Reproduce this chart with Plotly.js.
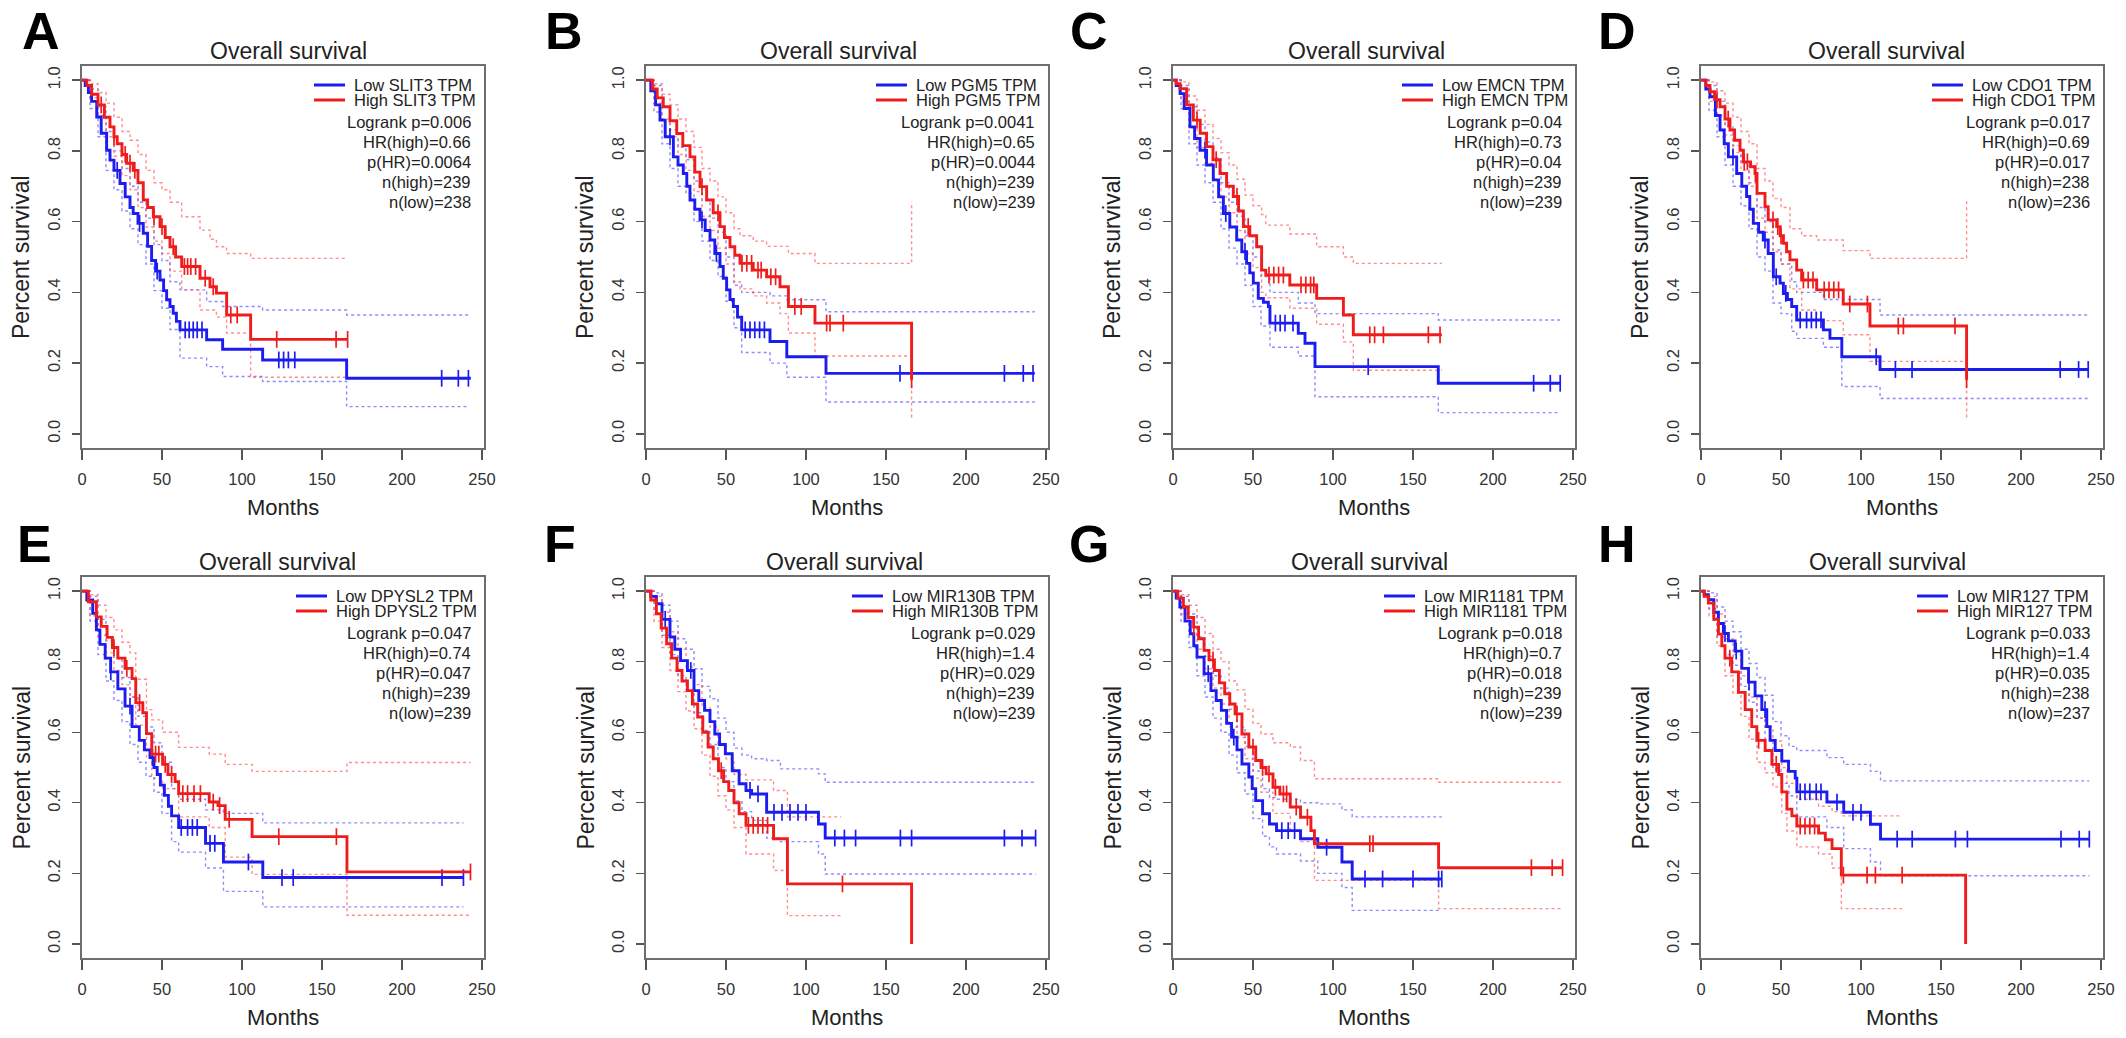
<!DOCTYPE html>
<html><head><meta charset="utf-8">
<script src="https://cdn.plot.ly/plotly-3.0.1.min.js"></script>
<style>html,body{margin:0;padding:0;background:#fff}#chart{width:2126px;height:1038px}</style>
</head><body><div id="chart"></div>
<script>
// ---------- DATA ----------
const letters = ['A','B','C','D','E','F','G','H'];
const genes = ['SLIT3','PGM5','EMCN','CDO1','DPYSL2','MIR130B','MIR1181','MIR127'];
const logrankP = ['0.006','0.0041','0.04','0.017','0.047','0.029','0.018','0.033'];
const hrHigh = ['0.66','0.65','0.73','0.69','0.74','1.4','0.7','1.4'];
const pHR = ['0.0064','0.0044','0.04','0.017','0.047','0.029','0.018','0.035'];
const nHigh = [239,239,239,238,239,239,239,238];
const nLow = [238,239,239,236,239,239,239,237];
const xTicks = [0,50,100,150,200,250];
const yTicks = [0,0.2,0.4,0.6,0.8,1.0];
const yTickText = ['0.0','0.2','0.4','0.6','0.8','1.0'];

// Panel A
const A_lowT=[0,2,4,6,9.2,12,15.4,17.5,20,23.75,27,30,32,35,38.3,41,43.5,46,48.75,51,52.9,55,57,59,61.25,77.9,87.9,112.9,165.4,243];
const A_lowS=[1,.985,.965,.94,.896,.85,.802,.774,.745,.708,.67,.64,.623,.595,.567,.53,.49,.46,.435,.405,.379,.36,.341,.318,.294,.266,.239,.209,.157,.157];
const A_lowC=[22,36,47,64.5,67,69.5,72,75,123,126,129,133,224.8,235.2,241.5];
const A_lowCiT=[0,5,10,15,20,25,30,35,40,45,50,55,61.25,77.9,87.9,112.9,165.4,242];
const A_lowCiU=[1,.975,.925,.855,.80,.75,.70,.655,.61,.535,.49,.43,.407,.374,.36,.35,.336,.336];
const A_lowCiL=[1,.92,.84,.745,.69,.63,.58,.535,.48,.405,.355,.295,.214,.19,.162,.148,.077,.077];
const A_highT=[0,3,6,10,14,17.5,20,22,25,27.9,32,35,38.3,41,44.6,48.75,52,55,58.5,62.3,73.75,80,84,90.4,105.4,166];
const A_highS=[1,.985,.96,.93,.895,.868,.84,.82,.79,.765,.745,.71,.661,.64,.614,.586,.555,.529,.5,.473,.44,.416,.398,.336,.267,.267];
const A_highC=[12,20,27,30,33,45,50,57,64,66,68,71,77,82,93,97,121.7,158.8,166];
const A_highCiT=[0,5,10,15,20,25,30,35,40,45,50,55,62.3,73.75,80,84,90.4,105.4,166];
const A_highCiU=[1,.99,.965,.935,.895,.855,.83,.79,.745,.71,.69,.655,.614,.576,.55,.529,.51,.496,.496];
const A_highCiL=[1,.95,.90,.84,.785,.73,.69,.64,.585,.545,.51,.46,.407,.35,.35,.33,.285,.16,.16];

// Panel B
const B_lowT=[0,3,6,8.75,12,17.1,20,23.3,25.5,27.5,30.5,33.75,37,40,43,46.25,48.3,50.4,52.5,54.6,57.2,59.8,77.5,88,112.5,243];
const B_lowS=[1,.97,.93,.887,.84,.783,.76,.736,.70,.661,.635,.605,.575,.548,.51,.473,.44,.407,.38,.36,.33,.294,.261,.218,.171,.171];
const B_lowC=[15,35,44,62,65,68,71,74,158.75,224,235.8,241.9];
const B_lowCiT=[0,5,10,15,20,25,30,35,40,45,50,55,59.8,77.5,88,112.5,243];
const B_lowCiU=[1,.985,.925,.86,.81,.775,.715,.66,.61,.57,.50,.42,.40,.39,.379,.345,.345];
const B_lowCiL=[1,.91,.82,.75,.70,.68,.60,.545,.49,.445,.375,.30,.23,.20,.16,.09,.09];
const B_highT=[0,4,7,10.8,15,19.2,23,27.5,30.5,33.75,37.9,42,46.25,49,52.5,55.5,58.75,67,75.4,83.75,89,105.6,166];
const B_highS=[1,.975,.95,.925,.885,.849,.815,.783,.74,.699,.661,.625,.586,.555,.529,.505,.482,.463,.444,.416,.36,.313,.153];
const B_highC=[35,45,60,63,66,70,72,78,81,93,97,112.9,115,123.3,166];
const B_highCiT=[0,5,10,15,20,25,30,35,40,45,50,55,58.75,67,75.4,83.75,89,105.6,166];
const B_highCiU=[1,.99,.96,.93,.89,.855,.81,.75,.715,.67,.625,.58,.56,.545,.53,.53,.51,.482,.656];
const B_highCiL=[1,.935,.89,.84,.79,.745,.685,.615,.575,.525,.48,.43,.41,.39,.37,.34,.285,.22,.04];

// Panel C
const C_lowT=[0,2,4.4,7,10.6,13.5,16.9,21,25.2,28.5,31.5,35.5,39.8,43,46,48,50.2,53.3,56.5,59.6,60.6,78.3,82.5,88.75,165.8,242];
const C_lowS=[1,.985,.962,.92,.868,.835,.802,.76,.718,.67,.623,.585,.548,.515,.482,.455,.426,.383,.372,.36,.313,.284,.256,.19,.143,.143];
const C_lowC=[20,33,45,64,67,70,75,122,225.4,235.8,242];
const C_lowCiT=[0,5,10,15,20,25,30,35,40,45,50,55,60.6,78.3,88.75,165.8,242];
const C_lowCiU=[1,.985,.925,.875,.825,.78,.71,.655,.615,.56,.50,.445,.40,.37,.34,.322,.322];
const C_lowCiL=[1,.92,.82,.76,.71,.655,.58,.525,.48,.42,.36,.305,.245,.22,.105,.06,.06];
const C_highT=[0,2,4.4,8.5,12.7,17,21,25,29.4,33.5,37.7,41,44,48,52.3,55.4,58,73,89.8,106.5,112.7,168];
const C_highS=[1,.99,.976,.93,.887,.85,.812,.775,.736,.70,.671,.63,.586,.56,.529,.463,.449,.421,.383,.336,.28,.28];
const C_highC=[15,27,40,47,60,63,66,69,80,83,86,88,123,126,131.5,159.6,166.9];
const C_highCiT=[0,5,10,15,20,25,30,35,40,45,50,55.4,58,73,89.8,106.5,112.7,168];
const C_highCiU=[1,.995,.955,.915,.875,.835,.795,.76,.72,.675,.645,.62,.59,.565,.529,.50,.482,.482];
const C_highCiL=[1,.94,.865,.81,.765,.715,.67,.625,.575,.51,.47,.40,.385,.355,.31,.26,.18,.18];

// Panel D
const D_lowT=[0,3,5.6,9,11.9,14.5,17.1,22.3,25.5,28.5,30.5,32.7,36,38.9,42,45.2,49.4,51.5,54,56.7,59.8,76.5,80.6,88,111.9,242];
const D_lowS=[1,.975,.953,.90,.859,.82,.783,.736,.70,.671,.635,.595,.57,.548,.51,.444,.426,.397,.38,.36,.322,.294,.27,.218,.182,.182];
const D_lowC=[20,40,47,53,62,66,69,72,75,109.5,121.5,131.9,224.5,236,242];
const D_lowCiT=[0,5,10,15,20,25,30,35,40,45,50,56.7,59.8,76.5,88,111.9,242];
const D_lowCiU=[1,.985,.94,.87,.815,.765,.71,.64,.60,.52,.48,.43,.40,.38,.38,.336,.336];
const D_lowCiL=[1,.915,.84,.76,.70,.645,.58,.50,.46,.37,.34,.29,.27,.245,.134,.10,.10];
const D_highT=[0,3,5.6,8.5,11.9,15,18.1,21,24.4,26.5,31,33.75,35,40,42,47.3,49.5,51.5,53.5,55.6,59.8,62.9,72.3,88.9,105.6,166];
const D_highS=[1,.985,.967,.945,.925,.89,.859,.83,.802,.769,.755,.736,.68,.642,.605,.586,.56,.539,.515,.492,.463,.435,.407,.367,.305,.153];
const D_highC=[10,17,27,29,34,45,48,50,64,67,70,77,80,83,86,93,104,123.3,126.5,158.75,166];
const D_highCiT=[0,5,10,15,20,25,30,35,40,45,50,55.6,62.9,72.3,88.9,105.6,166];
const D_highCiU=[1,.995,.97,.935,.895,.855,.82,.75,.715,.665,.64,.58,.56,.548,.518,.496,.661];
const D_highCiL=[1,.94,.90,.845,.795,.745,.70,.61,.57,.515,.48,.41,.35,.32,.28,.205,.04];

// Panel E
const E_lowT=[0,3,6.7,9,11.2,14.5,17.9,22.4,26.9,31.3,35.8,39,42.5,45,47,49,51.5,54,56,60.4,77.2,88.4,113,238.4];
const E_lowS=[1,.975,.937,.89,.849,.81,.771,.723,.674,.616,.577,.55,.528,.50,.48,.45,.421,.39,.363,.33,.285,.232,.188,.188];
const E_lowC=[18,30,44,62,66,69,72,80,83,104,125,132,225,238.4];
const E_lowCiT=[0,5,10,15,20,25,30,35,40,45,50,56,60.4,77.2,88.4,113,238.4];
const E_lowCiU=[1,.985,.92,.86,.81,.755,.70,.645,.615,.57,.515,.44,.41,.38,.37,.343,.343];
const E_lowCiL=[1,.915,.82,.745,.69,.63,.565,.515,.475,.43,.37,.29,.26,.215,.149,.105,.105];
const E_highT=[0,4,9,12,15.7,19,22.4,26.9,31.3,33.6,38,40.3,43.6,50.4,53.7,58.2,60.4,79.5,85,89.5,106.3,165.6,242.8];
const E_highS=[1,.97,.927,.90,.869,.84,.81,.781,.752,.684,.655,.596,.538,.509,.48,.46,.426,.402,.392,.353,.304,.204,.204];
const E_highC=[20,28,36,46,48,52,56,63,66,70,74,82,86,92,123,159,242.8];
const E_highCiT=[0,5,10,15,20,25,30,33.6,40.3,43.6,50.4,60.4,79.5,89.5,106.3,165.6,242.8];
const E_highCiU=[1,.99,.96,.925,.89,.855,.825,.75,.664,.635,.60,.557,.538,.509,.489,.514,.514];
const E_highCiL=[1,.93,.875,.825,.775,.735,.70,.62,.53,.47,.44,.36,.33,.246,.197,.081,.081];

// Panel F
const F_lowT=[0,3,6.5,10,15,18,21.6,25.9,30,33,36.6,40,43,46,49.6,53.9,58.2,62.5,66,75.4,107.8,112,243.5];
const F_lowS=[1,.985,.964,.92,.87,.835,.803,.775,.718,.69,.662,.63,.595,.565,.539,.491,.454,.435,.425,.373,.34,.30,.30];
const F_lowC=[12,28,65,70,80,85,90,95,100,118,124,131,159,166,224,235,243.5];
const F_lowCiT=[0,5,10,15,20,25,30,35,40,45,50,55,60,66,75.4,84,107.8,112,243.5];
const F_lowCiU=[1,.995,.96,.915,.865,.835,.78,.73,.695,.64,.60,.555,.535,.525,.52,.496,.482,.458,.458];
const F_lowCiL=[1,.94,.875,.82,.76,.72,.655,.605,.565,.50,.46,.405,.375,.35,.30,.29,.255,.198,.198];
const F_highT=[0,3,6.5,9.5,12.9,16,19.4,22.5,25.9,29,32.3,35.5,38.8,42,45.3,48.5,51.7,55,58.2,62.5,79.7,88.4,166];
const F_highS=[1,.975,.936,.895,.851,.81,.775,.745,.718,.68,.643,.60,.558,.525,.491,.46,.435,.40,.369,.336,.298,.17,0];
const F_highC=[47,64,67,70,73,76,122.8];
const F_highCiT=[0,5,10,15,20,25,30,35,40,45,50,55,62.5,79.7,88.4,122];
const F_highCiU=[1,.985,.94,.885,.835,.785,.735,.67,.615,.565,.525,.48,.465,.435,.36,.36];
const F_highCiL=[1,.915,.84,.775,.715,.66,.61,.535,.475,.42,.38,.33,.255,.208,.08,.08];

// Panel G
const G_lowT=[0,2,4.3,7.5,10.8,13,15,19.4,23.7,27,30.2,33.5,36.6,40,43.1,47.4,49.5,51.7,56,60.3,64.7,79.7,90.5,105.6,112,168];
const G_lowS=[1,.98,.955,.915,.879,.845,.813,.766,.718,.69,.662,.625,.586,.55,.51,.473,.44,.406,.369,.34,.321,.298,.274,.232,.184,.184];
const G_lowC=[22,38,68,72,76,96,120,131,150,166,168];
const G_lowCiT=[0,5,10,15,20,25,30,35,40,45,50,56,60.3,64.7,79.7,90.5,105.6,112,168];
const G_lowCiU=[1,.985,.935,.87,.815,.76,.725,.665,.615,.56,.49,.44,.415,.41,.40,.397,.38,.36,.36];
const G_lowCiL=[1,.915,.84,.76,.70,.64,.60,.535,.485,.425,.355,.305,.275,.255,.235,.20,.16,.095,.095];
const G_highT=[0,3,6.5,9.5,12.9,16,19.4,22.5,25.9,29,32.3,35.5,38.8,43.1,47.4,51.7,55,58.2,62.5,66.8,73.3,79.7,86.2,88.4,166,243.5];
const G_highS=[1,.98,.955,.925,.898,.865,.832,.805,.775,.74,.709,.68,.652,.595,.558,.52,.50,.482,.444,.425,.388,.359,.321,.284,.216,.216];
const G_highC=[13,25,40,50,56,60,64,69,71,77,84,123,125,224,237,243.5];
const G_highCiT=[0,5,10,15,20,25,30,35,40,45,50,55,62.5,73.3,79.7,88.4,166,243.5];
const G_highCiU=[1,.99,.96,.925,.88,.835,.80,.745,.72,.665,.625,.595,.57,.558,.52,.468,.458,.458];
const G_highCiL=[1,.935,.88,.835,.78,.725,.68,.615,.585,.525,.47,.43,.37,.32,.29,.18,.10,.10];

// Panel H
const H_lowT=[0,2,4.6,8,10.9,14,17.1,21.3,25.5,29.7,33.8,38,41.1,43.2,46.4,50.5,54.7,58.9,59.9,78.7,89.2,105.9,112.2,242.7];
const H_lowS=[1,.99,.976,.94,.908,.88,.859,.83,.781,.742,.703,.664,.616,.577,.548,.518,.489,.47,.431,.402,.373,.339,.297,.297];
const H_lowC=[8,15,22,30,40,62,65,68,72,75,85,95,100,122.6,132,159,166.5,225,236.4,242.7];
const H_lowCiT=[0,5,10,15,20,25,30,35,40,45,50,55,59.9,78.7,89.2,105.9,112.2,242.7];
const H_lowCiU=[1,.995,.955,.915,.885,.835,.795,.755,.705,.63,.59,.56,.548,.528,.509,.489,.462,.462];
const H_lowCiL=[1,.95,.87,.82,.79,.73,.685,.64,.58,.495,.455,.42,.36,.33,.27,.232,.193,.193];
const H_highT=[0,2,4.6,8,10.9,13,15,19.2,23.4,27.6,31.7,34.9,40.1,44.3,48.5,50.5,53.7,56.8,59.9,73.5,77.7,81.9,87.7,165.4];
const H_highS=[1,.985,.966,.92,.878,.845,.81,.771,.713,.664,.616,.577,.548,.509,.48,.431,.382,.363,.334,.314,.295,.27,.195,0];
const H_highC=[18,36,47,62,65,68,71,89,103.8,109,125.7];
const H_highCiT=[0,5,10,15,20,25,30,35,40,45,50.5,53.7,59.9,73.5,81.9,87.7,125.7];
const H_highCiU=[1,.985,.935,.865,.82,.76,.70,.64,.615,.575,.50,.455,.41,.39,.375,.363,.363];
const H_highCiL=[1,.93,.845,.76,.71,.645,.58,.515,.485,.445,.37,.32,.275,.255,.215,.10,.10];

const panels = [
 {low:[A_lowT,A_lowS,A_lowC,A_lowCiT,A_lowCiU,A_lowCiL], high:[A_highT,A_highS,A_highC,A_highCiT,A_highCiU,A_highCiL]},
 {low:[B_lowT,B_lowS,B_lowC,B_lowCiT,B_lowCiU,B_lowCiL], high:[B_highT,B_highS,B_highC,B_highCiT,B_highCiU,B_highCiL]},
 {low:[C_lowT,C_lowS,C_lowC,C_lowCiT,C_lowCiU,C_lowCiL], high:[C_highT,C_highS,C_highC,C_highCiT,C_highCiU,C_highCiL]},
 {low:[D_lowT,D_lowS,D_lowC,D_lowCiT,D_lowCiU,D_lowCiL], high:[D_highT,D_highS,D_highC,D_highCiT,D_highCiU,D_highCiL]},
 {low:[E_lowT,E_lowS,E_lowC,E_lowCiT,E_lowCiU,E_lowCiL], high:[E_highT,E_highS,E_highC,E_highCiT,E_highCiU,E_highCiL]},
 {low:[F_lowT,F_lowS,F_lowC,F_lowCiT,F_lowCiU,F_lowCiL], high:[F_highT,F_highS,F_highC,F_highCiT,F_highCiU,F_highCiL]},
 {low:[G_lowT,G_lowS,G_lowC,G_lowCiT,G_lowCiU,G_lowCiL], high:[G_highT,G_highS,G_highC,G_highCiT,G_highCiU,G_highCiL]},
 {low:[H_lowT,H_lowS,H_lowC,H_lowCiT,H_lowCiU,H_lowCiL], high:[H_highT,H_highS,H_highC,H_highCiT,H_highCiU,H_highCiL]}
];

// ---------- LAYOUT GEOMETRY ----------
const W=2126, Hh=1038;
const colL=[82,646,1173,1701], colR=[484,1048,1575,2103];
const rowT=[66,577], rowB=[448,958];
const titleCX=[288,838,1367,1886,277,844,1369,1887];
const letterX=[20,543,1068,1596,15,542,1067,1596];
const legOff=[132,134,135,133,150,158,153,148];
const FONT='Liberation Sans, Arial, sans-serif';
const px=v=>v/W, py=v=>1-v/Hh;
const BLUE='rgb(28,28,240)', RED='rgb(240,28,28)';
const BLUE_CI='rgba(80,80,255,0.65)', RED_CI='rgba(255,80,80,0.65)';

function stepAt(ts, ss, t){ let v=ss[0]; for(let i=0;i<ts.length;i++){ if(ts[i]<=t) v=ss[i]; } return v; }

const traces=[], annotations=[], shapes=[];
const layout={width:W,height:Hh,margin:{l:0,r:0,t:0,b:0},paper_bgcolor:'#fff',plot_bgcolor:'#fff',showlegend:false,font:{family:FONT,color:'#222'}};

panels.forEach((p,i)=>{
  const r=i<4?0:1, c=i%4, n=i+1;
  const xa='x'+(n===1?'':n), ya='y'+(n===1?'':n);
  const L=colL[c], R=colR[c], T=rowT[r], B=rowB[r];
  const axBase={showgrid:false,zeroline:false,showline:true,mirror:true,linecolor:'#6e6e6e',linewidth:1.6,
    ticks:'outside',tickcolor:'#555',tickwidth:1.4,tickfont:{family:FONT,size:16.5,color:'#333'},fixedrange:true};
  layout['xaxis'+(n===1?'':n)]=Object.assign({},axBase,{domain:[px(L),px(R)],range:[0,251.25],tickmode:'array',tickvals:xTicks,ticklen:10,ticklabelstandoff:6,anchor:ya});
  layout['yaxis'+(n===1?'':n)]=Object.assign({},axBase,{domain:[py(B),py(T)],range:[-0.04,1.04],tickmode:'array',tickvals:yTicks,ticktext:yTickText,tickangle:-90,ticklen:8,ticklabelstandoff:6,anchor:xa});

  const groups=[['low',BLUE,BLUE_CI],['high',RED,RED_CI]];
  groups.forEach(([g,col,ci])=>{
    const d=p[g];
    traces.push({x:d[3],y:d[4],xaxis:xa,yaxis:ya,mode:'lines',line:{shape:'hv',color:ci,width:1.4,dash:'dot'},hoverinfo:'skip'});
    traces.push({x:d[3],y:d[5],xaxis:xa,yaxis:ya,mode:'lines',line:{shape:'hv',color:ci,width:1.4,dash:'dot'},hoverinfo:'skip'});
  });
  groups.forEach(([g,col])=>{
    const d=p[g];
    traces.push({x:d[0],y:d[1],xaxis:xa,yaxis:ya,mode:'lines',line:{shape:'hv',color:col,width:2.9},hoverinfo:'skip'});
    traces.push({x:d[2],y:d[2].map(t=>stepAt(d[0],d[1],t)),xaxis:xa,yaxis:ya,mode:'markers',
      marker:{symbol:'line-ns-open',size:12,color:col,line:{color:col,width:1.7}},hoverinfo:'skip'});
  });

  annotations.push({text:'<b>'+letters[i]+'</b>',xref:'paper',yref:'paper',x:px(letterX[i]),y:py(r===0?31:544),xanchor:'left',yanchor:'middle',showarrow:false,font:{family:FONT,size:52,color:'#000'}});
  annotations.push({text:'Overall survival',xref:'paper',yref:'paper',x:px(titleCX[i]),y:py(T-15),xanchor:'center',yanchor:'middle',showarrow:false,font:{family:FONT,size:23,color:'#222'}});
  annotations.push({text:'Months',xref:'paper',yref:'paper',x:px((L+R)/2),y:py(B+59),xanchor:'center',yanchor:'middle',showarrow:false,font:{family:FONT,size:22,color:'#222'}});
  annotations.push({text:'Percent survival',xref:'paper',yref:'paper',x:px(L-61),y:py((T+B)/2),xanchor:'center',yanchor:'middle',textangle:-90,showarrow:false,font:{family:FONT,size:23,color:'#222'}});
  const lx=R-legOff[i];
  const legLabels=['Low '+genes[i]+' TPM','High '+genes[i]+' TPM'];
  [BLUE,RED].forEach((col,k)=>{
    const yy=T+19+15*k;
    shapes.push({type:'line',xref:'paper',yref:'paper',x0:px(lx-38),x1:px(lx-7),y0:py(yy),y1:py(yy),line:{color:col,width:3}});
    annotations.push({text:legLabels[k],xref:'paper',yref:'paper',x:px(lx),y:py(yy),xanchor:'left',yanchor:'middle',showarrow:false,font:{family:FONT,size:16.5,color:'#222'}});
  });
  const stats=['Logrank p='+logrankP[i],'HR(high)='+hrHigh[i],'p(HR)='+pHR[i],'n(high)='+nHigh[i],'n(low)='+nLow[i]];
  stats.forEach((s,k)=>{
    annotations.push({text:s,xref:'paper',yref:'paper',x:px(R-11),y:py(T+56+20*k),xanchor:'right',yanchor:'middle',showarrow:false,font:{family:FONT,size:16.5,color:'#222'}});
  });
});
layout.annotations=annotations;
layout.shapes=shapes;
Plotly.newPlot('chart',traces,layout,{displayModeBar:false,staticPlot:true});
</script></body></html>
